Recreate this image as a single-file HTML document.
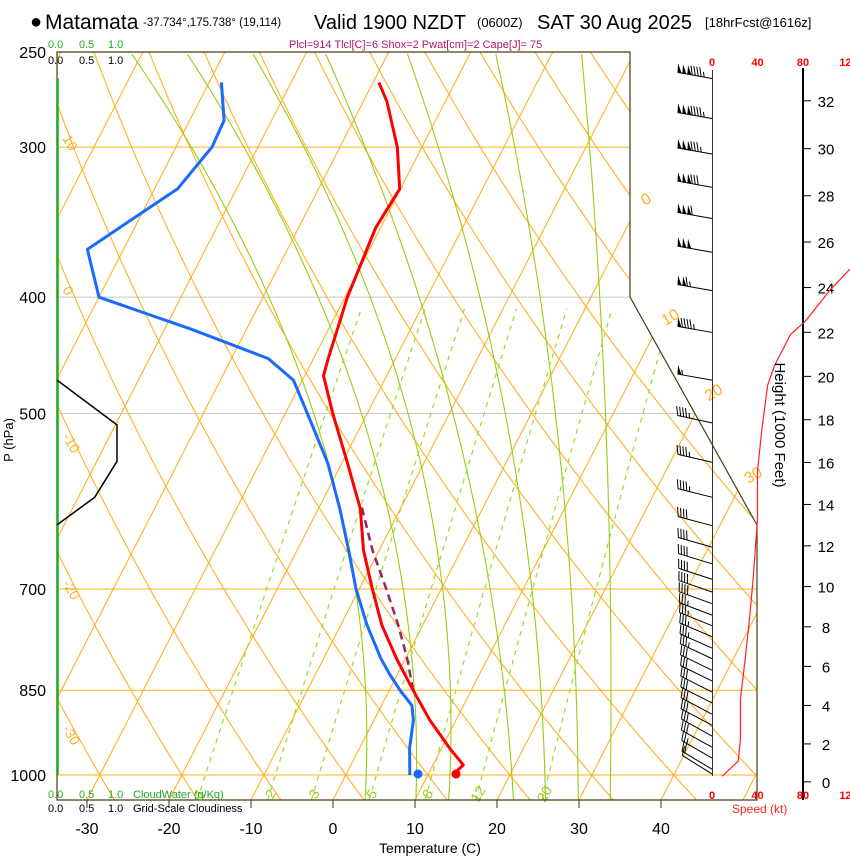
<!DOCTYPE html>
<html><head><meta charset="utf-8"><style>
html,body{margin:0;padding:0;background:#fff;}
svg{display:block;font-family:"Liberation Sans",Arial,sans-serif;}
</style></head><body>
<svg id="chart" width="850" height="860" viewBox="0 0 850 860" xmlns="http://www.w3.org/2000/svg">
<defs><clipPath id="plotclip"><polygon points="57,52 630,52 630,297 757,525 757,800 57,800"/></clipPath></defs>
<g>
<text x="30" y="28" font-size="20">●</text>
<text x="45" y="29" font-size="21">Matamata</text>
<text x="143" y="26" font-size="11.5">-37.734°,175.738° (19,114)</text>
<text x="314" y="29" font-size="20">Valid 1900 NZDT</text>
<text x="477" y="27" font-size="13">(0600Z)</text>
<text x="537" y="29" font-size="20">SAT 30 Aug 2025</text>
<text x="705" y="27" font-size="13">[18hrFcst@1616z]</text>
</g>
<text x="289" y="48" font-size="11" fill="#b01a5a">Plcl=914 Tlcl[C]=6 Shox=2 Pwat[cm]=2 Cape[J]= 75</text>
<g font-size="11" fill="#22aa22"><text x="48" y="48">0.0</text><text x="79" y="48">0.5</text><text x="108" y="48">1.0</text></g>
<g font-size="11" fill="#000"><text x="48" y="64">0.0</text><text x="79" y="64">0.5</text><text x="108" y="64">1.0</text></g>
<g id="bg" clip-path="url(#plotclip)"></g>
<g id="fg"></g>
<text transform="translate(13,440) rotate(-90)" text-anchor="middle" font-size="13">P (hPa)</text>
<text x="430" y="853" text-anchor="middle" font-size="14">Temperature (C)</text>
<text transform="translate(775,425) rotate(90)" text-anchor="middle" font-size="15">Height (1000 Feet)</text>
<g font-size="11" fill="#22aa22"><text x="48" y="798">0.0</text><text x="79" y="798">0.5</text><text x="108" y="798">1.0</text><text x="133" y="798">CloudWater (g/Kg)</text></g>
<g font-size="11" fill="#000"><text x="48" y="812">0.0</text><text x="79" y="812">0.5</text><text x="108" y="812">1.0</text><text x="133" y="812">Grid-Scale Cloudiness</text></g>
<text x="732" y="813" font-size="12" fill="#ff2020">Speed (kt)</text>
</svg>
<script>
const pressureTicks=[250,300,400,500,700,850,1000];
const tempTicks=[-30,-20,-10,0,10,20,30,40];
const heightTicks=[0,2,4,6,8,10,12,14,16,18,20,22,24,26,28,30,32];
const speedTicks=[0,40,80,120];
const mixRatios=[1,2,3,5,8,12,20];
const moistBottomT=[3.9,10.1,14.1,22.0,25.9,29.9,33.8];
const moistMidT=[-12.0,-6.2,-1.3,4.4,9.6,14.5,19.4];
const moistTopT=[-71.5,-64.7,-56.7,-47.8,-37.8,-27.0,-16.5];
const tempP=[1000,981,950,900,850,800,750,700,650,600,550,500,465,450,400,350,325,300,275,265];
const tempT=[13.0,13.7,11.0,6.8,2.9,-1.1,-5.0,-8.4,-11.9,-14.9,-19.3,-24.2,-27.7,-28.2,-29.7,-30.6,-30.1,-33.0,-37.1,-39.3];
const dewP=[1000,950,900,875,850,825,800,750,700,650,600,550,500,469,450,425,400,365,350,325,300,285,265];
const dewT=[7.8,6.1,4.8,3.7,1.3,-0.9,-3.0,-6.8,-10.4,-13.7,-17.4,-21.7,-27.3,-31.1,-35.5,-46.9,-60.0,-64.4,-61.8,-57.2,-55.6,-55.8,-58.5];
const parcelP=[850,800,750,700,650,596];
const parcelT=[2.9,0.2,-3.0,-6.7,-10.8,-15.0];
const cloudP=[469,511,548,587,619];
const cloudV=[0,1,1,0.63,0];
const windP=[263,284,304,324,344,367,395,428,469,509,549,587,620,646,667,687,704,720,736,751,767,784,800,818,835,853,871,890,909,928,948,968,989,998];
const windSpd=[195,195,185,180,160,150,115,95,55,45,45,45,40,40,40,40,38,38,36,35,35,33,33,32,30,30,30,30,30,30,28,25,20,10];
const windDir=[280,280,280,280,280,280,280,280,280,282,283,284,285,286,287,288,289,290,291,292,293,294,295,296,296,297,297,298,298,299,299,300,301,302];
const spdH=[0.3,1.1,2.2,4.3,6.3,8.4,10.3,13.3,15.6,17.6,19.6,20.5,21.9,22.5,23.9,24.8];
const spdV=[9,23,25,25,29,33,36,40,40,44,49,55,69,82,104,121];

const NS='http://www.w3.org/2000/svg';
const bg=document.getElementById('bg'), fg=document.getElementById('fg');
function yP(p){return 775+521.5*Math.log(p/1000);}
function xT(T,p){return 333+8.2*T+0.513*(800-yP(p));}
function pH(h){return 1013.25*Math.pow(1-6.5e-3*h*304.8/288.15,5.256);}
function yH(h){return yP(pH(h));}
function xS(s){return 712+s*45.5/40;}
function mk(tag,attrs,parent){const e=document.createElementNS(NS,tag);for(const k in attrs)e.setAttribute(k,attrs[k]);(parent||fg).appendChild(e);return e;}
function pts(a){return a.map(q=>q[0].toFixed(1)+','+q[1].toFixed(1)).join(' ');}
const OR='#ffb020';
pressureTicks.forEach(p=>{
  const l=mk('line',{x1:57,x2:760,y1:yP(p),y2:yP(p),stroke:(p==400||p==500)?'#c8c8c8':OR,'stroke-width':1},bg);
  
  
});
for(let T=-120;T<=50;T+=10){
  const l=mk('line',{x1:xT(T,1049),y1:yP(1049),x2:xT(T,250),y2:yP(250),stroke:OR,'stroke-width':1.1},bg);
  
  
}
for(let th=-40;th<=160;th+=10){
  const a=[];for(let p=1049;p>=248;p-=8){const T=(th+273.15)*Math.pow(p/1000,0.286)-273.15;a.push([xT(T,p),yP(p)]);}
  const l=mk('polyline',{points:pts(a),fill:'none',stroke:OR,'stroke-width':1.1},bg);
  
  
}
// moist adiabats: quadratic in ln p through three read temperatures
const l0=Math.log(1049),l1=Math.log(675.2),l2=Math.log(250);
moistBottomT.forEach((tb,i)=>{
  const tm=moistMidT[i],tt=moistTopT[i];const a=[];
  for(let p=1049;p>=248;p-=6){const L=Math.log(p);
    const T=tb*(L-l1)*(L-l2)/((l0-l1)*(l0-l2))+tm*(L-l0)*(L-l2)/((l1-l0)*(l1-l2))+tt*(L-l0)*(L-l1)/((l2-l0)*(l2-l1));
    a.push([xT(T,p),yP(p)]);}
  const l=mk('polyline',{points:pts(a),fill:'none',stroke:'#99cc11','stroke-width':1.1},bg);
  
  
});
function tdw(w,p){const e=w*p/(622+w);const L=Math.log(e/6.112);return 243.5*L/(17.67-L);}
mixRatios.forEach(w=>{
  const a=[];for(let p=1049;p>=400;p-=10)a.push([xT(tdw(w,p),p),yP(p)]);
  const l=mk('polyline',{points:pts(a),fill:'none',stroke:'#99dd22','stroke-width':1.2,'stroke-dasharray':'5,5'},bg);
  
  
  const t=mk('text',{transform:`translate(${xT(tdw(w,1030),1030)+4},${yP(1030)+6}) rotate(-60)`,'font-size':14,fill:'#99cc11','text-anchor':'middle'});
  t.textContent=w;
  
  
});
for(let th=-30;th<=10;th+=10){
  let pb=null;for(let p=1049;p>=250;p-=1){const T=(th+273.15)*Math.pow(p/1000,0.286)-273.15;if(xT(T,p)<=64){pb=p;break;}}
  if(pb){const t=mk('text',{transform:`translate(62,${yP(pb)+18}) rotate(60)`,'font-size':14,fill:OR});t.textContent=th;
  
  }
}
const isoLabT=[0,10,20,30],isoLabP=[332,418,483,566];
isoLabT.forEach((T,i)=>{const p=isoLabP[i];const t=mk('text',{transform:`translate(${xT(T,p)+4},${yP(p)+6}) rotate(-30)`,'font-size':16,fill:OR});t.textContent=T;
  
  });
const box=mk('polyline',{points:'630,297 630,52 57,52 57,800 757,800 757,525 630,297',fill:'none',stroke:'#4a3c10','stroke-width':1.2});


const gl=mk('line',{x1:57.5,x2:57.5,y1:78,y2:775,stroke:'#22aa22','stroke-width':2.5});


pressureTicks.forEach(p=>{const t=mk('text',{x:46,y:yP(p)+6,'text-anchor':'end','font-size':16});t.textContent=p;
  
  });
tempTicks.forEach(T=>{const x=333+8.2*T;
  const l=mk('line',{x1:x,x2:x,y1:800,y2:808,stroke:'#333'});
  
  
  const t=mk('text',{x:x,y:834,'text-anchor':'middle','font-size':16});t.textContent=T;
  
  });
const cl=mk('polyline',{points:pts(cloudP.map((p,i)=>[57+60*cloudV[i],yP(p)])),fill:'none',stroke:'#000','stroke-width':1.5});


const dl=mk('polyline',{points:pts(dewP.map((p,i)=>[xT(dewT[i],p),yP(p)])),fill:'none',stroke:'#1a6aff','stroke-width':3,'stroke-linejoin':'round'});


const pl=mk('polyline',{points:pts(parcelP.map((p,i)=>[xT(parcelT[i],p),yP(p)])),fill:'none',stroke:'#99226a','stroke-width':2.5,'stroke-dasharray':'8,5'});


const tl=mk('polyline',{points:pts(tempP.map((p,i)=>[xT(tempT[i],p),yP(p)])),fill:'none',stroke:'#ff0000','stroke-width':3,'stroke-linejoin':'round'});


const rd=mk('circle',{cx:456,cy:774,r:4.5,fill:'#ff0000'});


const bd=mk('circle',{cx:418,cy:774,r:4.5,fill:'#1a6aff'});


const ax0=mk('line',{x1:712.5,x2:712.5,y1:70,y2:776,stroke:'#333','stroke-width':1});


const hax=mk('line',{x1:803,x2:803,y1:68,y2:800,stroke:'#000','stroke-width':2});


heightTicks.forEach(h=>{const y=yH(h);
  const l=mk('line',{x1:803,x2:811,y1:y,y2:y,stroke:'#000'});
  
  
  const t=mk('text',{x:826,y:y+6,'text-anchor':'middle','font-size':15});t.textContent=h;
  
  });
speedTicks.forEach(s=>{[66,799].forEach(y=>{const t=mk('text',{x:xS(s),y:y,'text-anchor':'middle','font-size':11,'font-weight':'bold',fill:'#ff0000'});t.textContent=s;
  
  });});
const sl=mk('polyline',{points:pts(spdH.map((h,i)=>[xS(spdV[i]),yH(h)])),fill:'none',stroke:'#ff2020','stroke-width':1.2});


windP.forEach((p,i)=>{
  const g=mk('g',{});
  
  
  const a=windDir[i]*Math.PI/180;const ux=Math.sin(a),uy=-Math.cos(a);
  const bx=712,by=yP(p),L=35;const tx=bx+ux*L,ty=by+uy*L;
  mk('line',{x1:bx,y1:by,x2:tx,y2:ty,stroke:'#000','stroke-width':1},g);
  const nx=-uy,ny=ux;
  let s=Math.round(windSpd[i]/5)*5;let d=0;
  while(s>=50){const x0=tx-ux*d,y0=ty-uy*d;mk('polygon',{points:pts([[x0,y0],[x0-ux*4,y0-uy*4],[x0+nx*9+ux*1,y0+ny*9+uy*1]]),fill:'#000'},g);d+=5;s-=50;}
  while(s>=10){const x0=tx-ux*d,y0=ty-uy*d;mk('line',{x1:x0,y1:y0,x2:x0+nx*9+ux*3,y2:y0+ny*9+uy*3,stroke:'#000','stroke-width':1},g);d+=3;s-=10;}
  if(s>=5){const x0=tx-ux*d,y0=ty-uy*d;mk('line',{x1:x0,y1:y0,x2:x0+nx*5+ux*1.5,y2:y0+ny*5+uy*1.5,stroke:'#000','stroke-width':1},g);}
});
</script>
</body></html>
